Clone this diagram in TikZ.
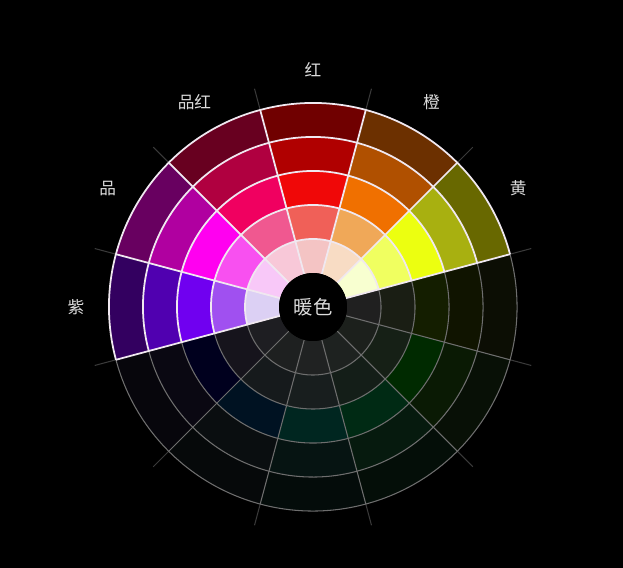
\documentclass[tikz,border=0pt]{standalone}
\usepackage{fontspec}
\newfontfamily\cjk{Noto Sans CJK SC}
\usepackage{tikz}
\usetikzlibrary{positioning}
\definecolor{LabelGray}{HTML}{DCDCDC}
\definecolor{EdgeWhite}{HTML}{F0E8F0}
\definecolor{GridGray}{HTML}{6E6E6E}
\definecolor{TickGray}{HTML}{3A3A3A}
% warm half
\definecolor{Yellow1}{HTML}{F8FFD0}\definecolor{Yellow2}{HTML}{F0FF60}\definecolor{Yellow3}{HTML}{ECFF10}
\definecolor{Yellow4}{HTML}{A8B010}\definecolor{Yellow5}{HTML}{686800}
\definecolor{Orange1}{HTML}{F8DCC4}\definecolor{Orange2}{HTML}{F0A858}\definecolor{Orange3}{HTML}{F07000}
\definecolor{Orange4}{HTML}{B05000}\definecolor{Orange5}{HTML}{6C3000}
\definecolor{Red1}{HTML}{F4C4C4}\definecolor{Red2}{HTML}{F06058}\definecolor{Red3}{HTML}{F00808}
\definecolor{Red4}{HTML}{B00000}\definecolor{Red5}{HTML}{700000}
\definecolor{Rose1}{HTML}{F8C8D8}\definecolor{Rose2}{HTML}{F05890}\definecolor{Rose3}{HTML}{F00060}
\definecolor{Rose4}{HTML}{B00040}\definecolor{Rose5}{HTML}{680020}
\definecolor{Magenta1}{HTML}{F8C8F8}\definecolor{Magenta2}{HTML}{F850F0}\definecolor{Magenta3}{HTML}{FF00F0}
\definecolor{Magenta4}{HTML}{B000A0}\definecolor{Magenta5}{HTML}{680060}
\definecolor{Violet1}{HTML}{DCD0F4}\definecolor{Violet2}{HTML}{A050F0}\definecolor{Violet3}{HTML}{7000F0}
\definecolor{Violet4}{HTML}{5000B0}\definecolor{Violet5}{HTML}{330060}
% cool half
\definecolor{DeepIndigo1}{HTML}{1E1E22}\definecolor{DeepIndigo2}{HTML}{16141C}\definecolor{DeepIndigo3}{HTML}{00001E}
\definecolor{DeepIndigo4}{HTML}{0A0812}\definecolor{DeepIndigo5}{HTML}{07060C}
\definecolor{DeepBlue1}{HTML}{1E2020}\definecolor{DeepBlue2}{HTML}{161A1C}\definecolor{DeepBlue3}{HTML}{001222}
\definecolor{DeepBlue4}{HTML}{0A0E10}\definecolor{DeepBlue5}{HTML}{06090A}
\definecolor{DeepTeal1}{HTML}{202222}\definecolor{DeepTeal2}{HTML}{181E1E}\definecolor{DeepTeal3}{HTML}{002620}
\definecolor{DeepTeal4}{HTML}{061412}\definecolor{DeepTeal5}{HTML}{040C0A}
\definecolor{DeepJade1}{HTML}{1E2220}\definecolor{DeepJade2}{HTML}{141E18}\definecolor{DeepJade3}{HTML}{002A14}
\definecolor{DeepJade4}{HTML}{061A0E}\definecolor{DeepJade5}{HTML}{040E08}
\definecolor{DeepGreen1}{HTML}{1C201C}\definecolor{DeepGreen2}{HTML}{162016}\definecolor{DeepGreen3}{HTML}{002A00}
\definecolor{DeepGreen4}{HTML}{0A1A04}\definecolor{DeepGreen5}{HTML}{081006}
\definecolor{DeepOlive1}{HTML}{202020}\definecolor{DeepOlive2}{HTML}{1A1E14}\definecolor{DeepOlive3}{HTML}{141E00}
\definecolor{DeepOlive4}{HTML}{101400}\definecolor{DeepOlive5}{HTML}{0C0E04}

\begin{document}
\begin{tikzpicture}[scale=0.02,
	rotulo/.style={text=LabelGray, font=\cjk\fontsize{9.5}{11}\selectfont, inner sep=1pt},
	rejilla/.style={draw=GridGray, line width=0.6pt},
	borde/.style={draw=EdgeWhite, line width=1pt},
	marca/.style={draw=TickGray, line width=0.6pt}]
	\fill[black] (-313,-261) rectangle (310,307);
	\useasboundingbox (-313,-261) rectangle (310,307);
	% sectors, five rings each
	\foreach \a/\s in {30/Yellow, 60/Orange, 90/Red, 120/Rose, 150/Magenta, 180/Violet,
		210/DeepIndigo, 240/DeepBlue, 270/DeepTeal, 300/DeepJade, 330/DeepGreen, 360/DeepOlive}
		\foreach \k in {1,...,5}
			\fill[\s\k] ({\a-15}:{34*\k}) arc[start angle=\a-15, end angle=\a+15, radius=34*\k]
				-- ({\a+15}:{34*\k+34}) arc[start angle=\a+15, end angle=\a-15, radius=34*\k+34] -- cycle;
	% outer ticks
	\foreach \a in {15,45,...,345}
		\draw[marca] (\a:204) -- (\a:226);
	% cool grid
	\foreach \r in {68,102,...,204}
		\draw[rejilla] (195:\r) arc[start angle=195, end angle=375, radius=\r];
	\foreach \a in {225,255,...,345}
		\draw[rejilla] (\a:34) -- (\a:204);
	% warm grid
	\foreach \r in {68,102,...,204}
		\draw[borde] (15:\r) arc[start angle=15, end angle=195, radius=\r];
	\foreach \a in {15,45,...,195}
		\draw[borde] (\a:34) -- (\a:204);
	\node[circle, fill=black, inner sep=0pt, minimum size=1.36cm, text=LabelGray,
		font=\cjk\fontsize{11}{12}\selectfont] (centro) at (0,0) {暖色};
	% hue names
	\foreach \a/\t/\n in {30/黄/huang, 60/橙/cheng, 90/红/hong, 120/品红/pinhong, 150/品/pin, 180/紫/zi}
		\node[rotulo] (\n) at (\a:237) {\t};
\end{tikzpicture}
\end{document}
